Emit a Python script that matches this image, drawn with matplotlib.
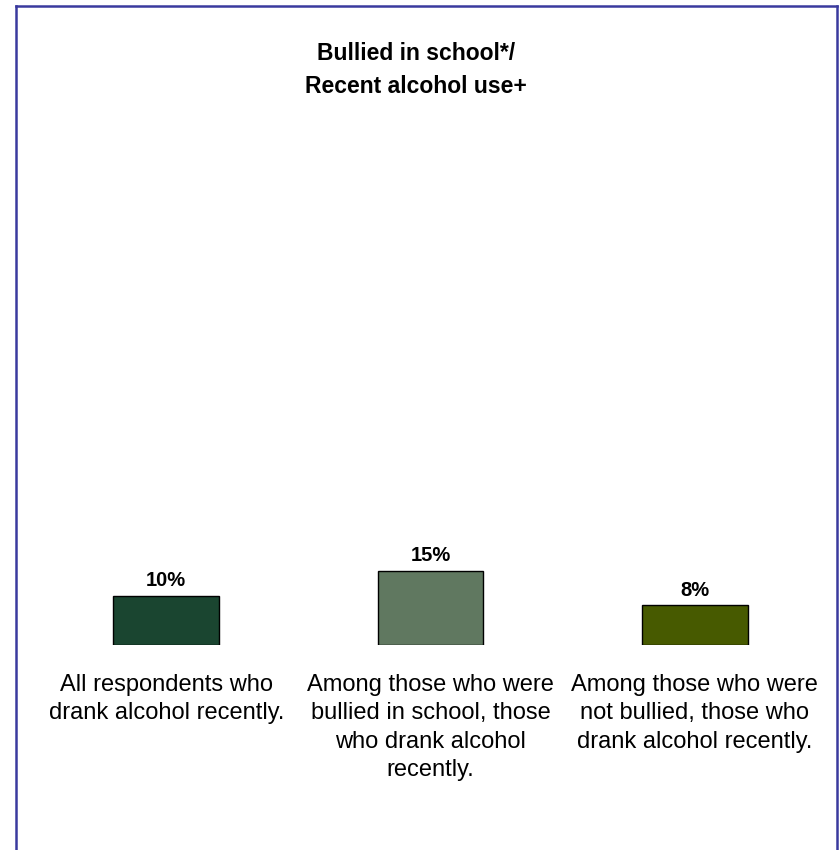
import matplotlib
matplotlib.use("Agg")
import matplotlib.pyplot as plt
from matplotlib.lines import Line2D

plt.rcParams['font.family'] = ['Liberation Sans', 'DejaVu Sans']

categories = [
    "All respondents who\ndrank alcohol recently.",
    "Among those who were\nbullied in school, those\nwho drank alcohol\nrecently.",
    "Among those who were\nnot bullied, those who\ndrank alcohol recently.",
]
values = [10, 15, 8]
value_labels = ["10%", "15%", "8%"]
colors = ["#1a4530", "#607860", "#475a00"]
title_lines = "Bullied in school*/\nRecent alcohol use+"

W, H = 839, 850
fig = plt.figure(figsize=(W / 100, H / 100), dpi=100)
fig.patch.set_facecolor("white")

ax = fig.add_axes([34.2 / W, 1 - 645 / H, 792.6 / W, 495 / H])
x = list(range(len(values)))
bars = ax.bar(x, values, width=0.40, color=colors, edgecolor="black", linewidth=1.0)
ax.set_xlim(-0.5, 2.5)
ax.set_ylim(0, 100)
ax.axis("off")

for xi, cat in zip(x, categories):
    ax.annotate(cat, xy=(xi, 0), xycoords=("data", "axes fraction"),
                xytext=(0, -20.8), textcoords="offset points",
                ha="center", va="top", fontsize=17, linespacing=1.38,
                annotation_clip=False)

for b, lab in zip(bars, value_labels):
    ax.annotate(lab, (b.get_x() + b.get_width() / 2, b.get_height()),
                xytext=(0, 4), textcoords="offset points",
                ha="center", va="bottom", fontsize=14.5, fontweight="bold")

fig.text(416 / W, 1 - 70 / H, title_lines, ha="center", va="center",
         fontsize=16.5, fontweight="bold", linespacing=1.55)

bc = "#3a3a9e"
lw = 1.8
fig.add_artist(Line2D([16 / W, 16 / W], [-0.01, 1 - 6 / H], transform=fig.transFigure, color=bc, lw=lw))
fig.add_artist(Line2D([837 / W, 837 / W], [-0.01, 1 - 6 / H], transform=fig.transFigure, color=bc, lw=lw))
fig.add_artist(Line2D([16 / W, 837 / W], [1 - 6 / H, 1 - 6 / H], transform=fig.transFigure, color=bc, lw=lw,
                      solid_capstyle="projecting"))

fig.savefig("out.png", dpi=100, facecolor="white")
